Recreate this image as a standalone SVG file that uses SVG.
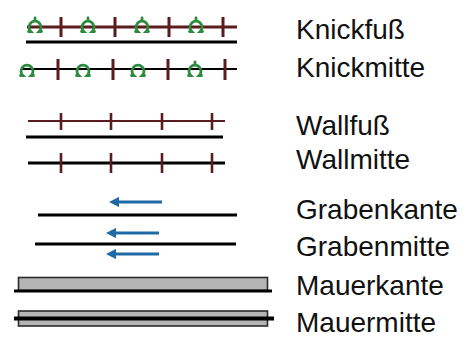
<svg xmlns="http://www.w3.org/2000/svg" width="468" height="338" viewBox="0 0 468 338">
<style>
.lbl{font-family:"Liberation Sans",Arial,sans-serif;font-size:28px;fill:#111}
.red{stroke:#5a1c1e;fill:none}
.blk{stroke:#000;fill:none}
.grn{stroke:#2a8c3c;stroke-width:2.8;fill:none;stroke-linecap:round}
.arr{stroke:#1f6aa5;stroke-width:3;fill:none}
.mauer{fill:#b5b5b5;stroke:#2b2b2b;stroke-width:1.6}
</style>
<defs>
<path id="omega" class="grn" d="M -6.5 6 H -4.2 A 6 6 0 1 1 4.2 6 H 6.5"/>
<path id="omegaStem" class="grn" d="M -6.5 6 H -4.2 A 6 6 0 1 1 4.2 6 H 6.5 M 0 -4.3 V -7.5"/>
<marker id="ah" viewBox="0 0 10 10" refX="2" refY="5" markerWidth="3.6" markerHeight="3.4" orient="auto-start-reverse" markerUnits="strokeWidth">
<path d="M0,0 L10,5 L0,10 z" fill="#1f6aa5"/>
</marker>
</defs>

<g id="knickfuss">
<line class="red" stroke-width="3" x1="27" y1="27" x2="237" y2="27"/>
<path class="red" stroke-width="3" d="M61 17V37M115 17V37M169 17V37M223 17V37"/>
<use href="#omegaStem" x="35" y="25.5"/>
<use href="#omegaStem" x="88" y="25.5"/>
<use href="#omegaStem" x="142" y="25.5"/>
<use href="#omegaStem" x="196" y="25.5"/>
<line class="blk" stroke-width="3" x1="26" y1="42" x2="237" y2="42"/>
<text class="lbl" x="296" y="39">Knickfuß</text>
</g>

<g id="knickmitte">
<line class="blk" stroke-width="1.8" x1="22" y1="69" x2="237" y2="69"/>
<path class="red" stroke-width="3" d="M58 59V80M113 59V80M168 59V80M225 59V80"/>
<use href="#omega" x="27" y="69.5"/>
<use href="#omega" x="83" y="69.5"/>
<use href="#omega" x="138" y="69.5"/>
<use href="#omegaStem" x="195" y="69.5"/>
<text class="lbl" x="296" y="77">Knickmitte</text>
</g>

<g id="wallfuss">
<line class="red" stroke-width="2.2" x1="28" y1="121" x2="225" y2="121"/>
<path class="red" stroke-width="2.6" d="M61 113V130M111 113V130M162 113V130M212 113V130"/>
<line class="blk" stroke-width="3" x1="26" y1="137" x2="223" y2="137"/>
<text class="lbl" x="296" y="135">Wallfuß</text>
</g>

<g id="wallmitte">
<line class="blk" stroke-width="3" x1="28" y1="163" x2="225" y2="163"/>
<path class="red" stroke-width="2.6" d="M61 153V173M111 153V173M162 153V173M212 153V173"/>
<text class="lbl" x="296" y="169">Wallmitte</text>
</g>

<g id="grabenkante">
<line class="arr" x1="162" y1="202" x2="117" y2="202" marker-end="url(#ah)"/>
<line class="blk" stroke-width="3" x1="38" y1="215" x2="237" y2="215"/>
<text class="lbl" x="296" y="219">Grabenkante</text>
</g>

<g id="grabenmitte">
<line class="arr" x1="159" y1="233" x2="114" y2="233" marker-end="url(#ah)"/>
<line class="blk" stroke-width="3" x1="35" y1="244" x2="236" y2="244"/>
<line class="arr" x1="159" y1="254" x2="114" y2="254" marker-end="url(#ah)"/>
<text class="lbl" x="296" y="256">Grabenmitte</text>
</g>

<g id="mauerkante">
<rect class="mauer" x="18.5" y="277.5" width="249" height="13"/>
<line class="blk" stroke-width="3" x1="14" y1="291" x2="272" y2="291"/>
<text class="lbl" x="296" y="295">Mauerkante</text>
</g>

<g id="mauermitte">
<rect class="mauer" x="18.5" y="311" width="249" height="15"/>
<line class="blk" stroke-width="4" x1="14" y1="318.5" x2="274" y2="318.5"/>
<text class="lbl" x="296" y="332">Mauermitte</text>
</g>
</svg>
